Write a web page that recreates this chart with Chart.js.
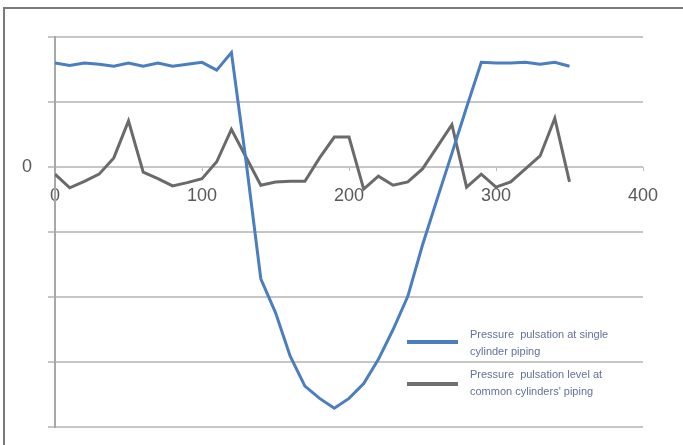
<!DOCTYPE html>
<html>
<head>
<meta charset="utf-8">
<script src="https://cdn.jsdelivr.net/npm/chart.js@4/dist/chart.umd.min.js"></script>
<style>
    html, body { margin: 0; padding: 0; background: #fff; }
    #wrap { position: relative; width: 683px; height: 445px; overflow: hidden; }
    #frame { position: absolute; left: 3px; top: 7px; width: 700px; height: 460px;
             border-top: 2px solid #7a7a7a; border-left: 2px solid #7a7a7a; }
    canvas { position: absolute; left: 0; top: 0; }
    .legend { position: absolute; left: 407px; font-family: "Liberation Sans", Arial, sans-serif;
              font-size: 11px; line-height: 17px; color: #65709a; }
    .legend .item { position: relative; padding-left: 63px; height: 36px; }
    .legend .swatch { position: absolute; left: 0; top: 14px; width: 51px; height: 4px; }
</style>
</head>
<body>
<div id="wrap">
    <div id="frame"></div>
    <canvas id="chart" width="683" height="445"></canvas>
    <div class="legend" style="top: 326px;">
        <div class="item"><span class="swatch" style="background:#4a7ebf"></span>Pressure&nbsp; pulsation at single<br>cylinder piping</div>
        <div class="item" style="margin-top: 4px;"><span class="swatch" style="background:#707070; top:16px"></span>Pressure&nbsp; pulsation level at<br>common cylinders' piping</div>
    </div>
</div>
<script>
// valores (x em graus, y em divisões da grade)
const angulos = [0, 10, 20, 30, 40, 50, 60, 70, 80, 90, 100, 110, 120, 130, 140, 150, 160, 170,
                 180, 190, 200, 210, 220, 230, 240, 250, 260, 270, 280, 290, 300, 310, 320, 330, 340, 350];

const pulsacaoSimples = [1.60, 1.56, 1.60, 1.58, 1.55, 1.60, 1.55, 1.60, 1.55, 1.58, 1.61, 1.49, 1.76,
                         0.08, -1.72, -2.24, -2.91, -3.37, -3.56, -3.71, -3.56, -3.33, -2.96, -2.50,
                         -1.99, -1.20, -0.49, 0.21, 0.92, 1.61, 1.60, 1.60, 1.61, 1.58, 1.61, 1.55];

const pulsacaoComum = [-0.11, -0.32, -0.22, -0.11, 0.14, 0.71, -0.08, -0.18, -0.29, -0.24, -0.18, 0.08, 0.58,
                       0.15, -0.28, -0.23, -0.22, -0.22, 0.14, 0.46, 0.46, -0.34, -0.14, -0.28,
                       -0.23, -0.03, 0.31, 0.65, -0.31, -0.11, -0.31, -0.23, -0.03, 0.17, 0.75, -0.23];

const xTicks = { min: 0, max: 400, step: 100 };
const yTicks = { min: -4, max: 2, step: 1 };

const pontos = arr => angulos.map((x, i) => ({ x: x, y: arr[i] }));

new Chart(document.getElementById('chart'), {
    type: 'line',
    data: {
        datasets: [
            { label: 'Pressure  pulsation at single cylinder piping', data: pontos(pulsacaoSimples),
              borderColor: '#4a7ebf', borderWidth: 3, pointRadius: 0, tension: 0 },
            { label: "Pressure  pulsation level at common cylinders' piping", data: pontos(pulsacaoComum),
              borderColor: '#6a6a6a', borderWidth: 3, pointRadius: 0, tension: 0 }
        ]
    },
    options: {
        responsive: false,
        animation: false,
        layout: { padding: { left: 0, top: 37, right: 40, bottom: 18 } },
        plugins: { legend: { display: false }, tooltip: { enabled: false } },
        scales: {
            x: {
                type: 'linear',
                position: { y: 0 },
                min: xTicks.min, max: xTicks.max,
                ticks: { stepSize: xTicks.step, padding: 14, color: '#595959',
                         font: { family: 'Liberation Sans', size: 18 } },
                grid: { drawOnChartArea: false, tickLength: 4, color: '#bdbdbd', lineWidth: 1 },
                border: { display: false }
            },
            y: {
                min: yTicks.min, max: yTicks.max,
                ticks: { stepSize: yTicks.step, padding: 16, color: '#595959',
                         font: { family: 'Liberation Sans', size: 18 },
                         callback: v => v === 0 ? '0' : '' },
                grid: { color: '#c6c6c6', lineWidth: 2, tickLength: 7 },
                border: { color: '#a8a8a8', width: 2 },
                afterFit: s => { s.width = 55; s.paddingTop = 0; s.paddingBottom = 0; }
            }
        }
    }
});
</script>
</body>
</html>
